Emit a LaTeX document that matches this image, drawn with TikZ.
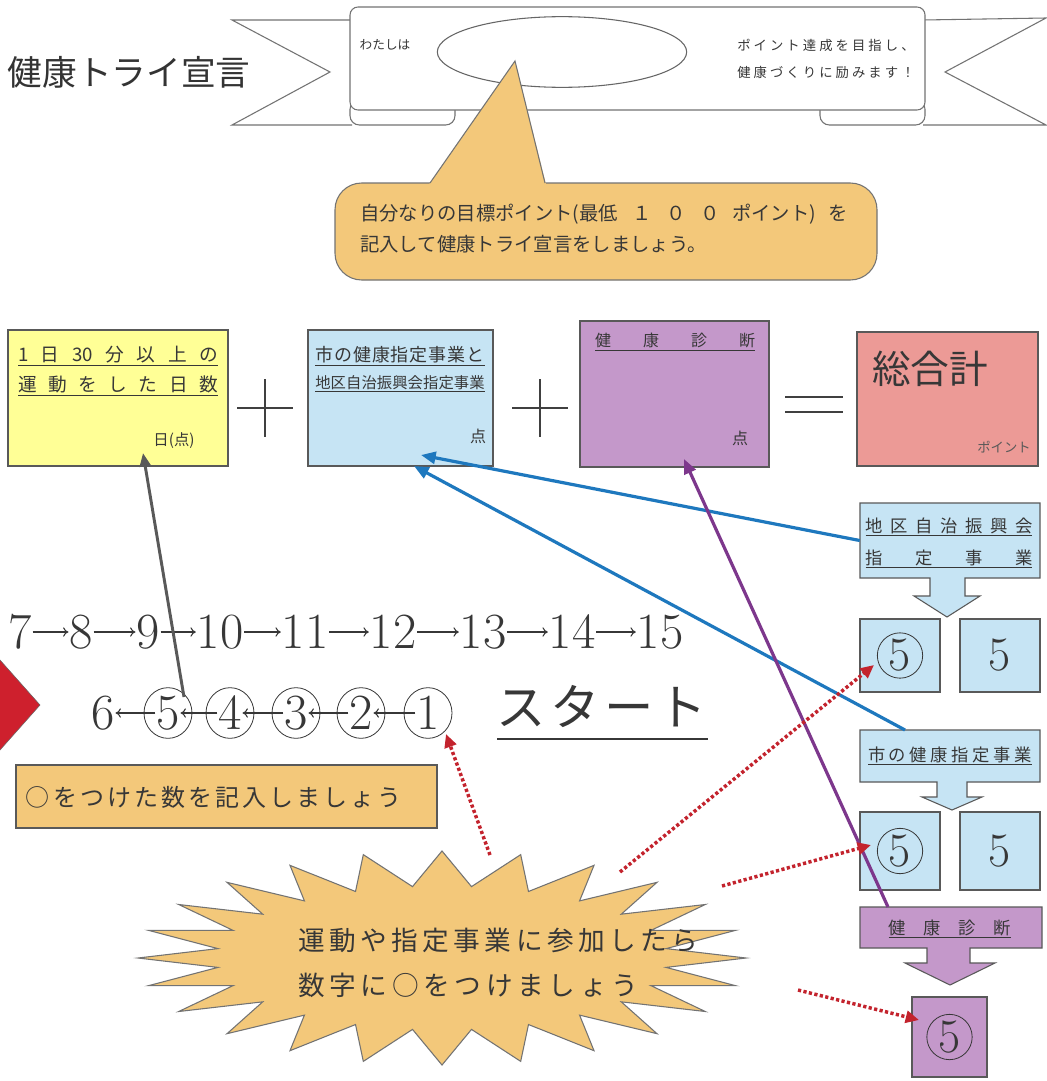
\documentclass[tikz,border=0pt]{standalone}
\usepackage{fontspec}
\newfontfamily\jp{Noto Sans CJK JP}
\usetikzlibrary{fit,arrows.meta,shapes.geometric}
\newcommand\fsz[1]{\fontsize{#1pt}{#1pt}\selectfont}
\ExplSyntaxOn
\cs_new_protected:Npn \my_spread_aux:n #1 { \tl_map_inline:nn {#1} { ##1 \hfil } \unskip }
\NewDocumentCommand\spreadbox{mm}{\makebox[#1][s]{\my_spread_aux:n{#2}}}
\ExplSyntaxOff
\definecolor{tanc}{RGB}{243,200,122}
\definecolor{yelc}{RGB}{255,255,150}
\definecolor{bluec}{RGB}{198,228,244}
\definecolor{purc}{RGB}{196,152,202}
\definecolor{pinkc}{RGB}{236,154,150}
\definecolor{redd}{RGB}{206,32,45}
\definecolor{arrblue}{RGB}{30,120,190}
\definecolor{arrpur}{RGB}{125,55,140}
\definecolor{dotred}{RGB}{195,35,45}
\definecolor{txt}{RGB}{55,55,55}
\tikzset{
 gline/.style={draw=black!55, line width=0.8pt},
 boxst/.style={draw=black!65, line width=0.8pt, inner sep=0pt},
 jt/.style={text=txt, inner sep=0pt},
 num/.style={text=txt, inner sep=0.5pt, font=\fsz{38}},
 numarr/.style={-{To[length=4pt,width=7pt]}, line width=0.8pt, draw=txt},
 ring/.style={draw=txt, ellipse, line width=0.6pt, minimum width=36pt, minimum height=38pt, inner sep=0pt},
 cring/.style={draw=txt, circle, line width=0.6pt, minimum size=34pt, inner sep=0pt, font=\fsz{36}, text=txt},
 bigd/.style={font=\fsz{36}, text=txt, inner sep=0pt},
 opline/.style={draw=black!75, line width=1.6pt},
 bluearr/.style={draw=arrblue, line width=2.4pt, -{Triangle[length=11pt,width=9pt]}},
 purarr/.style={draw=arrpur, line width=2.4pt, -{Triangle[length=11pt,width=9pt]}},
 grayarr/.style={draw=black!65, line width=2.2pt, -{Triangle[length=10pt,width=8pt]}},
 reddot/.style={draw=dotred, line width=2.6pt, dash pattern=on 2.4pt off 1.8pt, -{Triangle[length=10pt,width=9pt]}},
}
\begin{document}
\begin{tikzpicture}[x=0.75pt,y=-0.75pt]
\useasboundingbox (0,0) rectangle (1046,1081);
\fill[white] (0,0) rectangle (1046,1081);

% title
\node[jt, font=\jp\fsz{26}, text=black!80] (title) at (129,72) {健康トライ宣言};

% ribbon
\draw[gline, fill=white] (352,20) -- (232,20) -- (330,72) -- (232,125) -- (352,125);
\draw[gline, fill=white] (923,20) -- (1046,18) -- (945,72) -- (1046,125) -- (923,125);
\draw[gline, fill=white, rounded corners=7pt] (350,100) rectangle (455,125);
\draw[gline, fill=white, rounded corners=7pt] (820,100) rectangle (925,125);
\draw[gline, fill=white, rounded corners=6pt] (350,110) -- (350,7) -- (925,7) -- (925,110) -- cycle;
\node[draw=black!60, line width=0.8pt, ellipse, minimum width=187pt, minimum height=53pt] (ell) at (562,52) {};
\node[jt, font=\jp\fsz{9.5}] (wata) at (385,45) {わたしは};
\node[jt, font=\jp\fsz{10}, anchor=west] (pt1) at (737,45) {\spreadbox{133pt}{ポイント達成を目指し、}};
\node[jt, font=\jp\fsz{10}, anchor=west] (pt2) at (737,72) {\spreadbox{133pt}{健康づくりに励みます！}};

% callout
\draw[gline, fill=tanc, rounded corners=20pt] (335,183) -- (877,183) -- (877,280) -- (335,280) -- cycle;
\fill[tanc] (429,184.5) -- (515,61) -- (546,184.5) -- cycle;
\draw[gline] (430,183) -- (515,61) -- (545,183);
\node[jt, font=\jp\fsz{14.5}, anchor=west] (c1) at (360,214) {自分なりの目標ポイント(最低\hspace{11pt}１\hspace{11pt}０\hspace{11pt}０\hspace{9pt}ポイント)\hspace{9pt}を};
\node[jt, font=\jp\fsz{14.5}, anchor=west] (c2) at (360,244) {記入して健康トライ宣言をしましょう。};

% row of boxes
\node[boxst, fill=yelc, fit={(8,330)(228,466)}] (yb) {};
\node[jt, font=\jp\fsz{14}] (y1) at (118,356) {\underline{\spreadbox{150pt}{1日{30}分以上の}}};
\node[jt, font=\jp\fsz{14}] (y2) at (118,386) {\underline{\spreadbox{150pt}{運動をした日数}}};
\node[jt, font=\jp\fsz{11.5}] (y3) at (174,441) {日(点)};

\draw[opline] (265,379) -- (265,437) (237,408) -- (293,408);

\node[boxst, fill=bluec, fit={(308,330)(493,466)}] (bb) {};
\node[jt, font=\jp\fsz{13.5}] (b1) at (400,356) {\underline{\spreadbox{127pt}{市の健康指定事業と}}};
\node[jt, font=\jp\fsz{11.5}] (b2) at (400,384) {\underline{\spreadbox{127pt}{地区自治振興会指定事業}}};
\node[jt, font=\jp\fsz{12}] (b3) at (478,436) {点};

\draw[opline] (540,379) -- (540,437) (512,408) -- (568,408);

\node[boxst, fill=purc, fit={(580,321)(769,467)}] (pb) {};
\node[jt, font=\jp\fsz{12}] (p1) at (675,342) {\underline{\spreadbox{120pt}{健康診断}}};
\node[jt, font=\jp\fsz{12}] (p3) at (740,438) {点};

\draw[opline] (785,397) -- (843,397) (785,412) -- (843,412);

\node[boxst, fill=pinkc, fit={(857,332)(1038,466)}] (kb) {};
\node[jt, font=\jp\fsz{29}] (k1) at (930,369) {総合計};
\node[jt, font=\jp\fsz{10}, text=black!65] (k2) at (1004,447) {ポイント};

% right column: chiku
\draw[boxst, fill=bluec] (860,503) -- (1040,503) -- (1040,578) -- (965,578) -- (965,596) -- (980,596) -- (947,617) -- (914,596) -- (930,596) -- (930,578) -- (860,578) -- cycle;
\node[inner sep=0pt, fit={(860,503)(1040,578)}] (chiku) {};
\node[jt, font=\jp\fsz{13}] (ch1) at (949,527) {\underline{\spreadbox{125pt}{地区自治振興会}}};
\node[jt, font=\jp\fsz{13}] (ch2) at (949,559) {\underline{\spreadbox{125pt}{指定事業}}};
\node[boxst, fill=bluec, fit={(860,619)(940,692)}] (cb1) {};
\node[cring] (cc1) at (cb1.center) {5};
\node[boxst, fill=bluec, fit={(960,619)(1040,692)}] (cb2) {};
\node[bigd] (cd2) at (cb2.center) {5};

% right column: ichi
\draw[boxst, fill=bluec] (860,730) -- (1040,730) -- (1040,782) -- (967,782) -- (967,797) -- (982,797) -- (952,810) -- (922,797) -- (937,797) -- (937,782) -- (860,782) -- cycle;
\node[inner sep=0pt, fit={(860,730)(1040,782)}] (ichi) {};
\node[jt, font=\jp\fsz{13}] (ic1) at (950,756) {\underline{\spreadbox{123pt}{市の健康指定事業}}};
\node[boxst, fill=bluec, fit={(860,812)(940,890)}] (ib1) {};
\node[cring] (ic1c) at (ib1.center) {5};
\node[boxst, fill=bluec, fit={(960,812)(1040,890)}] (ib2) {};
\node[bigd] (id2) at (ib2.center) {5};

% right column: kenshin
\draw[boxst, fill=purc] (860,907) -- (1042,907) -- (1042,948) -- (970,948) -- (970,963) -- (995,963) -- (950,985) -- (905,963) -- (927,963) -- (927,948) -- (860,948) -- cycle;
\node[inner sep=0pt, fit={(860,907)(1042,948)}] (ken) {};
\node[jt, font=\jp\fsz{13}] (ke1) at (950,929) {\underline{\spreadbox{92pt}{健康診断}}};
\node[boxst, fill=purc, fit={(912,997)(987,1077)}] (kb5) {};
\node[cring] (kc5) at (kb5.center) {5};

% number rows
\foreach \v/\xx in {7/20,8/81,9/148,10/220,11/305,12/393,13/483,14/572,15/660}
  \node[num] (n\v) at (\xx,632) {\v};
\foreach \a/\b in {7/8,8/9,9/10,10/11,11/12,12/13,13/14,14/15}
  \draw[numarr] (n\a) -- (n\b);
\node[num] (d6) at (103,713) {6};
\foreach \v/\xx in {5/168,4/230,3/296,2/361,1/428}{
  \node[num] (d\v) at (\xx,713) {\v};
  \node[ring] (o\v) at (\xx,713) {};
}
\foreach \a/\b in {1/2,2/3,3/4,4/5,5/6}
  \draw[numarr] (d\a) -- (d\b);

\node[jt, font=\jp\fsz{37}] (start) at (602,706) {\spreadbox{158pt}{スタート}};
\draw[draw=txt, line width=1.2pt] (497,739) -- (708,739);

% red diamond
\draw[draw=black!60, fill=redd] (0,660) -- (40,705) -- (0,750) -- (-40,705) -- cycle;

% note box
\node[boxst, fill=tanc, fit={(16,765)(437,828)}] (note) {};
\node[jt, font=\jp\fsz{18}] (nt) at (214,797) {\spreadbox{282pt}{○をつけた数を記入しましょう}};

% starburst
\draw[gline, fill=tanc] plot[variable=\k, samples at={0,...,47}] ({442+(iseven(\k)?304:226)*cos(\k*7.5)}, {958+(iseven(\k)?107:72)*sin(\k*7.5)}) -- cycle;
\coordinate (burst) at (442,958);
\node[jt, font=\jp\fsz{20}, anchor=west] (s1) at (298,940) {\spreadbox{300pt}{運動や指定事業に参加したら}};
\node[jt, font=\jp\fsz{20}, anchor=west] (s2) at (298,985) {\spreadbox{255pt}{数字に○をつけましょう}};

% connectors
\coordinate (gst) at (184,697);
\coordinate (gend) at (143,453);
\draw[grayarr] (gst) -- (gend);

\coordinate (bend1) at (421,455);
\coordinate (ist) at (905,730);
\coordinate (bend2) at (414,466);
\draw[bluearr] (chiku.west) -- (bend1);
\draw[bluearr] (ist) -- (bend2);

\coordinate (kst) at (888,907);
\coordinate (pend) at (684,459);
\draw[purarr] (kst) -- (pend);

\coordinate (r1s) at (490,855);
\coordinate (r1e) at (446,734);
\coordinate (r2s) at (620,872);
\coordinate (r2e) at (874,665);
\coordinate (r3s) at (722,886);
\coordinate (r3e) at (871,845);
\coordinate (r4s) at (798,990);
\coordinate (r4e) at (919,1020);
\draw[reddot] (r1s) -- (r1e);
\draw[reddot] (r2s) -- (r2e);
\draw[reddot] (r3s) -- (r3e);
\draw[reddot] (r4s) -- (r4e);
\end{tikzpicture}
\end{document}
